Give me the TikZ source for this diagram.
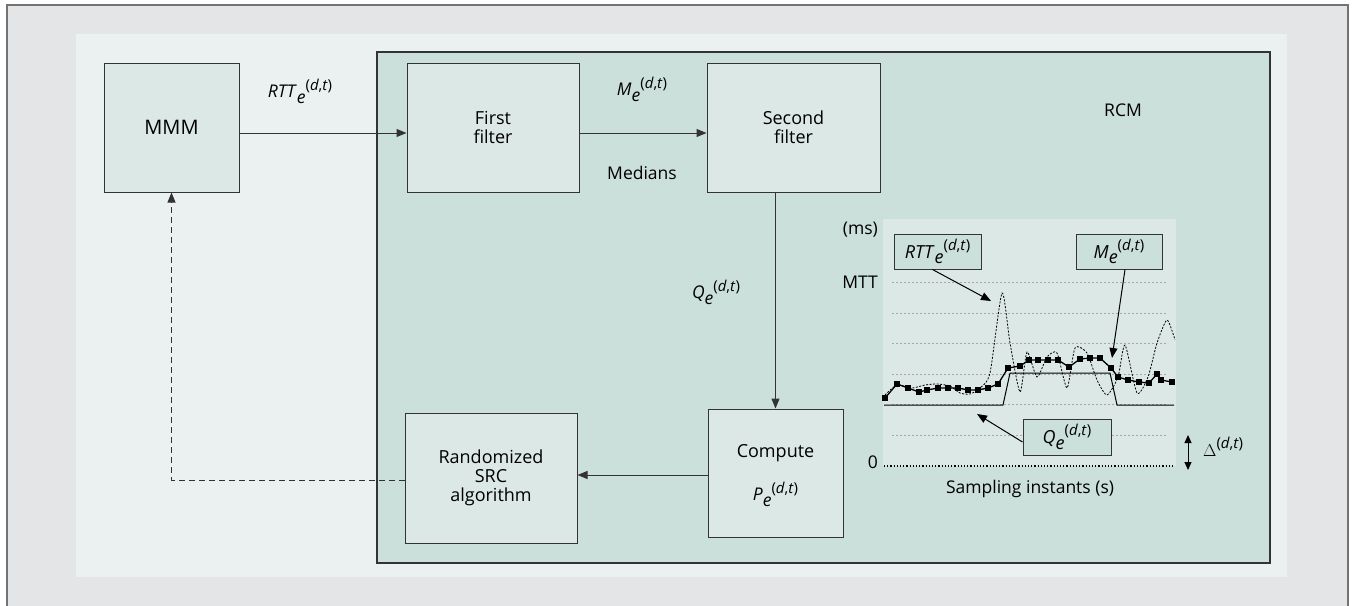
\documentclass[tikz,border=0pt]{standalone}
\usepackage{fontspec}
\setmainfont{Open Sans}
\usetikzlibrary{arrows.meta,plotmarks}
\definecolor{outergray}{HTML}{E4E5E7}
\definecolor{lightbg}{HTML}{EBF1F1}
\definecolor{rcmfill}{HTML}{CBDFDB}
\definecolor{boxfill}{HTML}{DCE8E6}
\definecolor{linecol}{HTML}{333333}
\newcommand\elab[1]{\textit{#1}\raisebox{-0.3em}{\textit{e}}\raisebox{0.45em}{\fontsize{15}{15}\selectfont(\textit{d},\textit{t})}}
\tikzset{
  blockbox/.style={draw=linecol, line width=1pt, fill=boxfill, align=center, inner sep=0pt, font=\fontsize{18}{19}\selectfont},
  callout/.style={draw=linecol, line width=1pt, fill=rcmfill, inner sep=0pt, font=\fontsize{18}{18}\selectfont},
  flow/.style={draw=linecol, line width=1pt, -{Triangle[length=10pt,width=8pt]}},
  pointer/.style={draw=black, line width=1pt, -{Triangle[length=10pt,width=8pt]}},
  lbl/.style={font=\fontsize{17.5}{18}\selectfont, inner sep=0pt},
  grid line/.style={draw=black!35, line width=0.6pt, dash pattern=on 2pt off 2pt}
}
\begin{document}
\begin{tikzpicture}[x=1pt,y=-1pt]
\useasboundingbox (0,0) rectangle (1356,605);
% outer frame
\fill[outergray] (7,5) rectangle (1348,606);
\draw[black!55, line width=1.5pt] (7,606) -- (7,5) -- (1348,5) -- (1348,606);
% light region
\fill[lightbg] (76,34) rectangle (1287,577);
% RCM box
\node[draw=linecol, line width=1.2pt, fill=rcmfill, minimum width=893pt, minimum height=511pt, inner sep=0pt] (rcm) at (823.5,307.5) {};
\node[lbl] (rcmlabel) at (1123,110) {RCM};
% blocks
\node[blockbox, minimum width=135pt, minimum height=129pt, font=\fontsize{20}{20}\selectfont] (mmm) at (171.5,127.5) {MMM};
\node[blockbox, minimum width=172pt, minimum height=129pt] (first) at (493,127.5) {First\\filter};
\node[blockbox, minimum width=173pt, minimum height=129pt] (second) at (793.5,127.5) {Second\\filter};
\node[blockbox, minimum width=135pt, minimum height=128pt] (compute) at (775.5,473) {};
\node[lbl, font=\fontsize{18}{18}\selectfont] (computetxt) at (775.5,453) {Compute};
\node[lbl] (pe) at (775.5,494) {\elab{P}};
\node[blockbox, minimum width=172pt, minimum height=130pt] (rand) at (491,478) {Randomized\\SRC\\algorithm};
% connectors
\draw[flow] ([yshift=-5.5pt]mmm.east) -- ([yshift=-5.5pt]first.west);
\draw[flow] ([yshift=-5.5pt]first.east) -- ([yshift=-5.5pt]second.west);
\draw[flow] (second.south -| compute.north) -- (compute.north);
\draw[flow] ([yshift=-2pt]compute.west) -- ([yshift=-2pt]compute.west -| rand.east);
\draw[flow, dashed, dash pattern=on 6pt off 4pt] ([yshift=-2pt]rand.west) -| (mmm.south);
% connector labels
\node[lbl] (rttlab) at (300,91) {\elab{RTT}};
\node[lbl] (mlab) at (642,89) {\elab{M}};
\node[lbl] (medians) at (642,173) {Medians};
\node[lbl] (qlab) at (716,292) {\elab{Q}};
% chart panel
\fill[boxfill] (883,219) rectangle (1176,466);
\foreach \yy in {282,313,343,374,404,435} \draw[grid line] (892,\yy) -- (1168,\yy);
\draw[black, line width=1.2pt, dotted] (884,466) -- (1175,466);
\node[lbl, anchor=east] (ms) at (878,230) {(ms)};
\node[lbl, anchor=east] (mtt) at (878,282) {MTT};
\node[lbl, anchor=east] (zero) at (878,462) {0};
\node[lbl] (sampling) at (1030,489) {Sampling instants (s)};
% Q curve
\draw[black, line width=1pt] (884,405) -- (1003,405) -- (1010,373) -- (1110,373) -- (1117,405) -- (1174,405);
% RTT curve
\draw[black, line width=0.8pt, dash pattern=on 2pt off 1.5pt] plot[smooth, tension=0.4] coordinates {
(885,395) (897,385) (912,388) (925,385) (937,384) (950,386) (960,393) (970,394) (980,388) (990,373)
(1002,293) (1010,343) (1020,392) (1027,352) (1037,377) (1047,357) (1057,353) (1067,388) (1075,348)
(1087,353) (1097,380) (1107,395) (1118,377) (1125,345) (1137,393) (1148,377) (1157,343) (1167,320) (1175,340)};
% M curve
\draw[black, line width=1.3pt, mark=square*, mark size=2.4pt, mark options={solid}] plot coordinates {
(885,398) (897,384) (908,388) (919,392) (927,390) (938,388) (948,388) (958,388) (968,390) (978,390)
(988,388) (998,384) (1008,368) (1020,366) (1029,360) (1038,360) (1048,360) (1058,360) (1069,367)
(1080,359) (1090,358) (1100,358) (1111,368) (1118,377) (1128,380) (1139,382) (1149,383) (1157,374)
(1161,380) (1172,382)};
% callouts
\node[callout, minimum width=87pt, minimum height=35pt] (rttbox) at (937.5,251.5) {\elab{RTT}};
\node[callout, minimum width=86pt, minimum height=35pt] (mbox) at (1119,251.5) {\elab{M}};
\node[callout, minimum width=88pt, minimum height=36pt] (qbox) at (1067,437) {\elab{Q}};
\coordinate (rtttip) at (991,301);
\coordinate (mtip) at (1112,358);
\coordinate (qtip) at (977,414);
\draw[pointer] ([xshift=-5pt]rttbox.south) -- (rtttip);
\draw[pointer] ([xshift=6pt]mbox.south) -- (mtip);
\draw[pointer] ([yshift=-5pt]qbox.west) -- (qtip);
% delta
\coordinate (dtop) at (1188,435);
\coordinate (dbot) at (1188,470);
\draw[black, line width=1pt, {Triangle[length=8pt,width=7pt]}-{Triangle[length=8pt,width=7pt]}] (dtop) -- (dbot);
\node[lbl, anchor=west] (delta) at (1203,447) {$\Delta$\raisebox{0.45em}{\fontsize{15}{15}\selectfont(\textit{d},\textit{t})}};
\end{tikzpicture}
\end{document}
